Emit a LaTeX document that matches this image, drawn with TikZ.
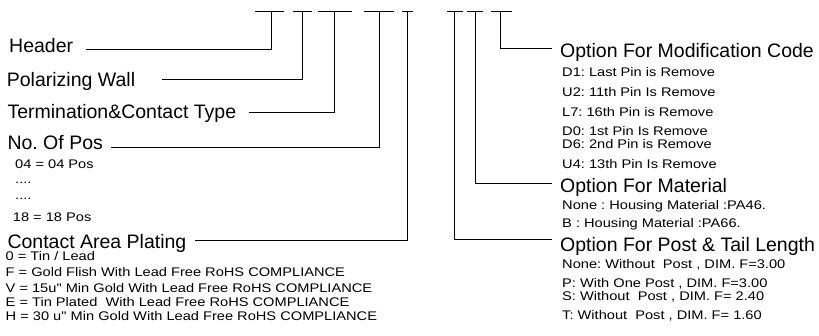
\documentclass[tikz,border=0pt]{standalone}
\usepackage{fontspec}
\setmainfont{Liberation Sans}
\newfontfamily\itemfont[FakeStretch=1.17]{Liberation Sans}
\frenchspacing
\usetikzlibrary{positioning,calc}
\tikzset{
  title/.style={anchor=base west, inner sep=0pt, font=\fontsize{19.5}{20}\selectfont, text height=14pt, text depth=4pt},
  item/.style={anchor=base west, inner sep=0pt, font=\itemfont\fontsize{12.5}{13}\selectfont},
  lead/.style={draw, line width=0.8pt},
}
\begin{document}
\begin{tikzpicture}[x=1pt,y=-1pt]
  \useasboundingbox (0,0) rectangle (819,336);

  % code field marks
  \foreach \a/\b/\c/\n in {255/284/271/1, 293/312/302/2, 318/352/334/3, 364/394/379/4,
      402/413/407/5, 447/463/454/6, 467/483/475/7, 491/512/500/8}{
    \draw[lead] (\a,11) -- (\b,11);
    \coordinate (t\n) at (\c,11);
  }

  % left side
  \node[title] (hdr) at (9,52.3) {Header};
  \node[title] (wall) at (6.7,87) {Polarizing Wall};
  \node[title] (term) at (7.3,119) {Termination\&Contact Type};
  \node[title] (pos) at (7.3,150) {No. Of Pos};
  \node[title] (plat) at (7.3,248.3) {Contact Area Plating};

  \node[item] (pos1) at (15,169) {04 = 04 Pos};
  \node[item] (pos2) at (15,183.3) {....};
  \node[item] (pos3) at (15,200) {....};
  \node[item] (pos4) at (12.7,221.7) {18 = 18 Pos};

  \foreach \y/\t [count=\i] in {261/{0 = Tin / Lead},
      277/{F = Gold Flish With Lead Free RoHS COMPLIANCE},
      293/{V = 15u" Min Gold With Lead Free RoHS COMPLIANCE},
      306.5/{E = Tin Plated~ With Lead Free RoHS COMPLIANCE},
      321/{H = 30 u" Min Gold With Lead Free RoHS COMPLIANCE}}
    \node[item] (plat\i) at (5.5,\y) {\t};

  \draw[lead] (t1) |- ([xshift=13pt,yshift=-1.7pt]hdr.east);
  \draw[lead] (t2) |- ([xshift=27pt,yshift=3pt]wall.east);
  \draw[lead] (t3) |- ([xshift=13pt,yshift=2pt]term.east);
  \draw[lead] (t4) |- ([xshift=8pt,yshift=-2pt]pos.east);
  \draw[lead] (t5) |- ([xshift=8pt,yshift=3.3pt]plat.east);

  % right side
  \node[title] (mod) at (560,57.3) {Option For Modification Code};
  \node[title] (mat) at (560,192.3) {Option For Material};
  \node[title] (post) at (560,251.3) {Option For Post \& Tail Length};

  \foreach \y/\t [count=\i] in {76.7/{D1: Last Pin is Remove},
      96.7/{U2: 11th Pin Is Remove},
      116.7/{L7: 16th Pin is Remove},
      135.7/{D0: 1st Pin Is Remove},
      148.3/{D6: 2nd Pin is Remove},
      168.3/{U4: 13th Pin Is Remove}}
    \node[item] (mod\i) at (562,\y) {\t};

  \node[item] (mat1) at (562,210) {None : Housing Material :PA46.};
  \node[item] (mat2) at (562,227.3) {B : Housing Material :PA66.};

  \foreach \y/\t [count=\i] in {268.3/{None: Without~ Post , DIM. F=3.00},
      287.7/{P: With One Post , DIM. F=3.00},
      300.7/{S: Without~ Post , DIM. F= 2.40},
      320/{T: Without~ Post , DIM. F= 1.60}}
    \node[item] (post\i) at (562,\y) {\t};

  \draw[lead] (t8) |- ([xshift=-8pt,yshift=4.3pt]mod.west);
  \draw[lead] (t7) |- ([xshift=-8pt,yshift=4.3pt]mat.west);
  \draw[lead] (t6) |- ([xshift=-8pt,yshift=6.5pt]post.west);
\end{tikzpicture}
\end{document}
